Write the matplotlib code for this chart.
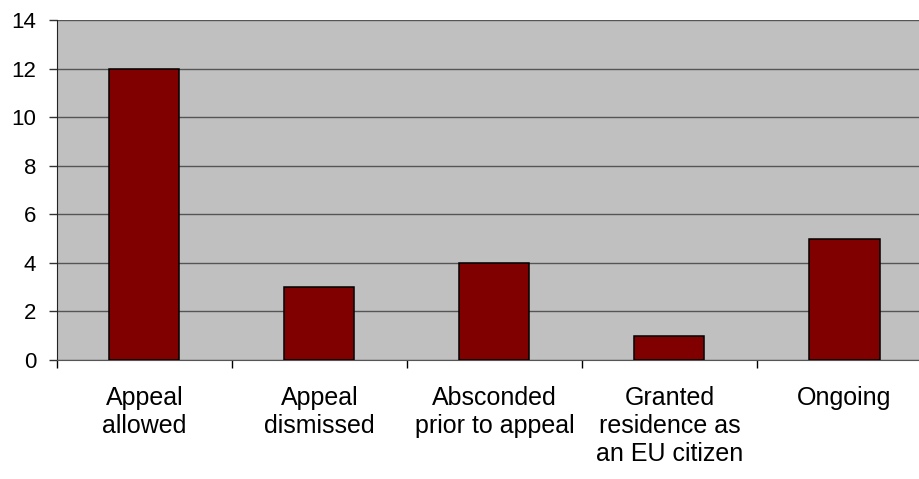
import matplotlib
matplotlib.use("Agg")
import matplotlib.pyplot as plt
from matplotlib.ticker import FixedLocator

categories = ["Appeal\nallowed", "Appeal\ndismissed", "Absconded\nprior to appeal",
              "Granted\nresidence as\nan EU citizen", "Ongoing"]
values = [12, 3, 4, 1, 5]
yticks = [0, 2, 4, 6, 8, 10, 12, 14]

plt.rcParams['font.family'] = ['Liberation Sans', 'DejaVu Sans']

fig = plt.figure(figsize=(9.2, 4.79), dpi=100)
ax = fig.add_axes([57/920, (479-360)/479, (932-57)/920, 340/479])
ax.set_facecolor('#C0C0C0')

x = list(range(len(values)))
ax.bar(x, values, width=0.4, color='#800000', edgecolor='black', linewidth=1.1, zorder=3)

ax.set_xlim(-0.5, len(values) - 0.5)
ax.set_ylim(0, 14)
ax.set_yticks(yticks)
ax.yaxis.grid(True, color='#555555', linewidth=1.0, zorder=0)
ax.set_axisbelow(True)

# major ticks at boundaries, labels at centers
ax.xaxis.set_major_locator(FixedLocator([i - 0.5 for i in range(len(values) + 1)]))
ax.xaxis.set_minor_locator(FixedLocator(x))
ax.set_xticklabels([])
ax.set_xticklabels(categories, minor=True)
ax.tick_params(axis='x', which='major', direction='out', length=6, width=1, color='black')
ax.tick_params(axis='x', which='minor', length=0, pad=19, labelsize=18)
ax.tick_params(axis='y', direction='out', length=6, width=1, color='#333333', pad=9, labelsize=16)

for lab in ax.get_xticklabels(minor=True):
    lab.set_linespacing(1.2)

ax.spines['left'].set_color('#222222')
ax.spines['bottom'].set_color('#555555')
ax.spines['top'].set_visible(False)
ax.spines['right'].set_visible(False)

fig.savefig('out.png', dpi=100)
